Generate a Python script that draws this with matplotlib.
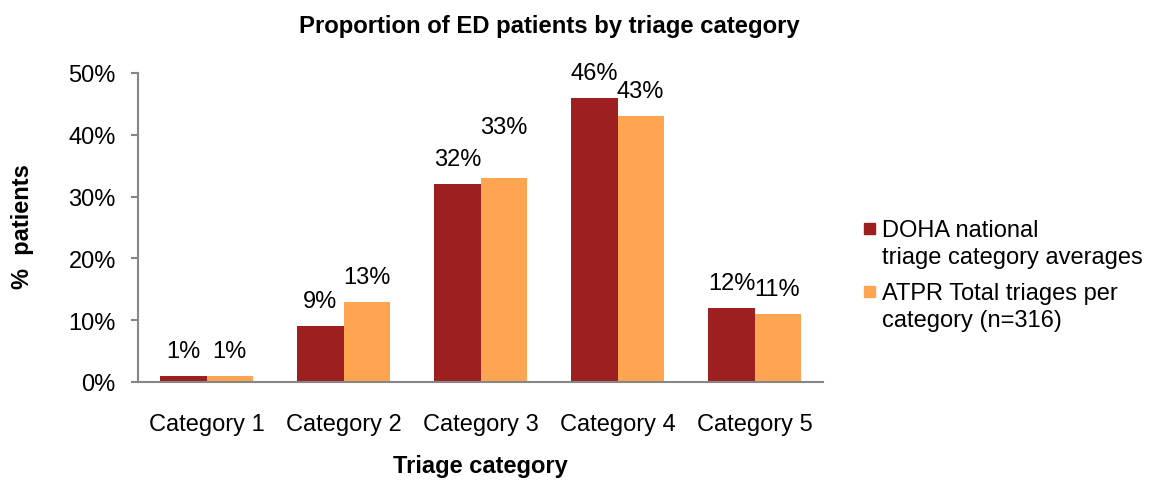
import matplotlib
matplotlib.use("Agg")
import matplotlib.pyplot as plt
import numpy as np
from matplotlib.patches import Rectangle

plt.rcParams['font.family'] = ['Liberation Sans', 'DejaVu Sans']

# data
categories = ['Category 1', 'Category 2', 'Category 3', 'Category 4', 'Category 5']
doha = [1, 9, 32, 46, 12]
atpr = [1, 13, 33, 43, 11]
series_names = ['DOHA national\ntriage category averages',
                'ATPR Total triages per\ncategory (n=316)']
red = '#9E1F20'
orange = '#FFA552'
axis_grey = '#868686'
fs = 17

fig = plt.figure(figsize=(11.51, 4.81), dpi=100)
ax = fig.add_axes([138/1151, 1-383/481, 685/1151, 309/481])

x = np.arange(len(categories))
w = 0.336
b1 = ax.bar(x - w/2, doha, w, color=red, edgecolor='none')
b2 = ax.bar(x + w/2, atpr, w, color=orange, edgecolor='none')

# data labels (the 33% label was nudged up in the original)
extra1 = [0, 0, 0, 0, 0]
extra2 = [0, 0, 19, 0, 0]
for bars, vals, extra in [(b1, doha, extra1), (b2, atpr, extra2)]:
    for r, v, e in zip(bars, vals, extra):
        ax.annotate(f'{v}%', (r.get_x() + r.get_width()/2, v),
                    xytext=(0, 18 + e), textcoords='offset points',
                    ha='center', va='center', fontsize=fs)

ax.set_xlim(-0.5, 4.5)
ax.set_ylim(0, 50)
ax.set_yticks(range(0, 51, 10))
ax.set_yticklabels([f'{t}%' for t in range(0, 51, 10)])
ax.set_xticks(x)
ax.set_xticklabels(categories)
ax.tick_params(axis='y', labelsize=fs, length=5, width=1.5, color=axis_grey, pad=11)
ax.tick_params(axis='x', labelsize=fs, length=0, pad=22)

for s in ['top', 'right']:
    ax.spines[s].set_visible(False)
for s in ['left', 'bottom']:
    ax.spines[s].set_color(axis_grey)
    ax.spines[s].set_linewidth(1.5)

fig.text(549/1151, 1-26/481, 'Proportion of ED patients by triage category',
         ha='center', va='center', fontsize=17.2, fontweight='bold')
fig.text(480/1151, 1-466/481, 'Triage category', ha='center', va='center',
         fontsize=fs, fontweight='bold')
fig.text(22/1151, 1-227/481, '%  patients', ha='center', va='center',
         rotation=90, fontsize=fs, fontweight='bold')

# legend drawn by hand so the marker sits on the first line
legend_top = [220, 283]
for name, col, yt in zip(series_names, [red, orange], legend_top):
    fig.patches.append(Rectangle((864/1151, 1-(yt+15)/481), 11/1151, 11/481,
                                 transform=fig.transFigure, color=col))
    fig.text(882/1151, 1-yt/481, name, ha='left', va='top',
             fontsize=fs, linespacing=1.3)

fig.savefig('out.png', dpi=100)
